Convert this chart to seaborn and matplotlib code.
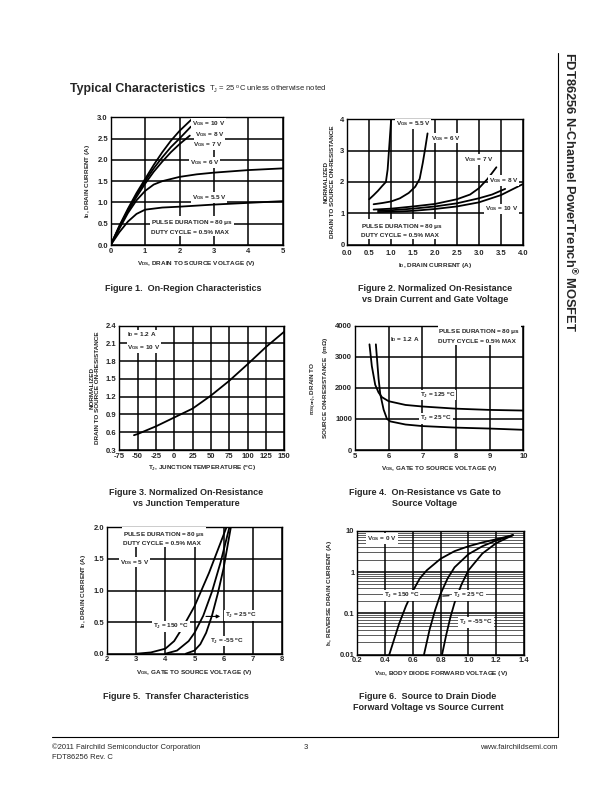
import numpy as np
import matplotlib
matplotlib.use("Agg")
import matplotlib.pyplot as plt
import seaborn as sns

# --- Data ---
# Figure 1: on-region characteristics (VDS in V, ID in A)
f1_v10 = [0, 0.25, 0.5, 0.75, 1.0, 1.25, 1.5, 1.75, 2.0, 2.35]
f1_i10 = [0, 0.45, 0.85, 1.22, 1.55, 1.88, 2.18, 2.45, 2.68, 2.95]
f1_v8 = [0, 0.25, 0.5, 0.75, 1.0, 1.25, 1.5, 1.75, 2.0, 2.33]
f1_i8 = [0, 0.43, 0.82, 1.18, 1.5, 1.8, 2.06, 2.3, 2.5, 2.78]
f1_v7 = [0, 0.25, 0.5, 0.75, 1.0, 1.25, 1.5, 1.75, 2.0, 2.3]
f1_i7 = [0, 0.41, 0.79, 1.13, 1.44, 1.72, 1.96, 2.18, 2.37, 2.57]
f1_v6 = [0, 0.25, 0.5, 0.75, 1.0, 1.25, 1.5, 2.0, 2.5, 3.0, 4.0, 5.0]
f1_i6 = [0, 0.38, 0.75, 1.05, 1.27, 1.42, 1.5, 1.6, 1.66, 1.7, 1.76, 1.8]
f1_v55 = [0, 0.25, 0.5, 0.75, 1.0, 1.5, 2.0, 3.0, 4.0, 5.0]
f1_i55 = [0, 0.3, 0.55, 0.73, 0.83, 0.88, 0.9, 0.95, 0.99, 1.03]

# Figure 2: normalized RDS(on) vs ID
f2_i55 = [0.5, 0.6, 0.7, 0.8, 0.88, 0.92, 0.96, 1.0]
f2_r55 = [1.45, 1.58, 1.72, 1.88, 2.0, 2.4, 3.2, 4.0]
f2_i6 = [0.6, 0.8, 1.0, 1.2, 1.4, 1.55, 1.65, 1.72, 1.78, 1.83]
f2_r6 = [1.29, 1.33, 1.38, 1.48, 1.65, 1.85, 2.1, 2.6, 3.1, 3.55]
f2_i7 = [0.6, 1.0, 1.5, 2.0, 2.5, 2.8, 3.0, 3.2, 3.4]
f2_r7 = [1.12, 1.15, 1.22, 1.3, 1.45, 1.6, 1.8, 2.1, 2.47]
f2_i8 = [0.7, 1.0, 1.5, 2.0, 2.5, 3.0, 3.3, 3.6]
f2_r8 = [1.08, 1.1, 1.15, 1.22, 1.32, 1.48, 1.6, 1.78]
f2_i10 = [0.7, 1.0, 1.5, 2.0, 2.5, 3.0, 3.5, 4.0]
f2_r10 = [1.04, 1.05, 1.08, 1.14, 1.22, 1.35, 1.58, 1.93]

# Figure 3: normalized RDS(on) vs junction temperature
f3_t = [-55, -50, -25, 0, 25, 50, 75, 100, 125, 150]
f3_r = [0.55, 0.57, 0.70, 0.85, 1.0, 1.22, 1.47, 1.75, 2.04, 2.3]

# Figure 4: RDS(on) (mOhm) vs VGS
f4_v125 = [5.43, 5.5, 5.6, 5.7, 5.8, 6.0, 6.5, 7.0, 8.0, 9.0, 10.0]
f4_r125 = [3400, 2700, 2100, 1850, 1700, 1570, 1450, 1400, 1330, 1290, 1270]
f4_v25 = [5.62, 5.7, 5.75, 5.85, 5.95, 6.05, 6.5, 7.0, 8.0, 9.0, 10.0]
f4_r25 = [3400, 2300, 1800, 1300, 1000, 920, 820, 770, 720, 690, 650]

# Figure 5: transfer characteristics
f5_v150 = [3.0, 3.5, 4.0, 4.3, 4.6, 5.0, 5.5, 6.1]
f5_i150 = [0, 0.02, 0.08, 0.2, 0.42, 0.75, 1.28, 2.0]
f5_v25 = [4.0, 4.4, 4.8, 5.0, 5.3, 5.6, 5.9, 6.2]
f5_i25 = [0, 0.05, 0.2, 0.33, 0.6, 0.98, 1.45, 2.0]
f5_vm55 = [4.7, 5.0, 5.2, 5.4, 5.6, 5.8, 6.0, 6.25]
f5_im55 = [0, 0.05, 0.15, 0.33, 0.6, 0.95, 1.35, 2.0]

# Figure 6: body diode forward voltage vs source current
f6_v150 = [0.43, 0.5, 0.55, 0.6, 0.65, 0.7, 0.8, 0.9, 1.0, 1.1, 1.2, 1.32]
f6_i150 = [0.01, 0.055, 0.15, 0.35, 0.7, 1.1, 2.1, 3.2, 4.2, 5.2, 6.2, 7.8]
f6_v25 = [0.68, 0.72, 0.76, 0.8, 0.85, 0.9, 1.0, 1.1, 1.2, 1.32]
f6_i25 = [0.01, 0.04, 0.12, 0.3, 0.7, 1.3, 2.7, 4.2, 5.8, 7.8]
f6_vm55 = [0.81, 0.84, 0.87, 0.9, 0.95, 1.0, 1.1, 1.2, 1.32]
f6_im55 = [0.01, 0.03, 0.08, 0.18, 0.5, 1.1, 2.8, 5.0, 7.8]

# --- Style ---
sns.set_style("white")
plt.rcParams['font.family'] = ['Liberation Sans', 'DejaVu Sans']
plt.rcParams['mathtext.default'] = 'regular'

W, H = 612, 792
fig = plt.figure(figsize=(W / 100, H / 100), dpi=100)

TICK_FS = 5.5
LAB_FS = 4.6
TXT_FS = 4.6
BOX = dict(fc='white', ec='none', pad=0.6)


def add_ax(x0, y0, x1, y1):
    return fig.add_axes([x0 / W, 1 - y1 / H, (x1 - x0) / W, (y1 - y0) / H])


def style(ax):
    for s in ax.spines.values():
        s.set_linewidth(1.0)
        s.set_color('black')
    ax.tick_params(labelsize=TICK_FS, length=0, pad=2)
    for lab in ax.get_xticklabels() + ax.get_yticklabels():
        lab.set_fontweight('bold')
    ax.grid(True, color='black', lw=1.1)
    ax.set_axisbelow(True)


def curve(ax, x, y):
    sns.lineplot(x=x, y=y, ax=ax, color='black', lw=1.3, estimator=None, sort=False)


def txt(ax, x, y, s, **kw):
    ax.text(x, y, s, fontsize=TXT_FS, fontweight='bold', bbox=BOX, zorder=5, **kw)


# ---- Figure 1 ----
ax1 = add_ax(110.7, 117.3, 282.7, 245)
for x, y in [(f1_v10, f1_i10), (f1_v8, f1_i8), (f1_v7, f1_i7), (f1_v6, f1_i6), (f1_v55, f1_i55)]:
    curve(ax1, x, y)
ax1.set_xlim(0, 5)
ax1.set_ylim(0, 3)
ax1.set_xticks(range(0, 6))
ax1.set_yticks(np.arange(0, 3.01, 0.5))
ax1.set_yticklabels([f"{v:.1f}" for v in np.arange(0, 3.01, 0.5)])
style(ax1)
txt(ax1, 2.35, 2.86, r"V$_{GS}$ = 10 V", va='center')
txt(ax1, 2.45, 2.6, r"V$_{GS}$ = 8 V", va='center')
txt(ax1, 2.4, 2.35, r"V$_{GS}$ = 7 V", va='center')
txt(ax1, 2.3, 1.94, r"V$_{GS}$ = 6 V", va='center')
txt(ax1, 2.35, 1.12, r"V$_{GS}$ = 5.5 V", va='center')
txt(ax1, 1.17, 0.43, "PULSE DURATION = 80 $\\mu$s\nDUTY CYCLE = 0.5% MAX", va='center', linespacing=1.6)
ax1.set_xlabel(r"V$_{DS}$, DRAIN TO SOURCE VOLTAGE (V)", fontsize=LAB_FS, fontweight='bold', labelpad=3)
ax1.set_ylabel(r"I$_D$, DRAIN CURRENT (A)", fontsize=LAB_FS, fontweight='bold', labelpad=4)

# ---- Figure 2 ----
ax2 = add_ax(347.3, 119.3, 522.7, 244.7)
for x, y in [(f2_i55, f2_r55), (f2_i6, f2_r6), (f2_i7, f2_r7), (f2_i8, f2_r8), (f2_i10, f2_r10)]:
    curve(ax2, x, y)
ax2.set_xlim(0, 4)
ax2.set_ylim(0, 4)
ax2.set_xticks(np.arange(0, 4.01, 0.5))
ax2.set_xticklabels([f"{v:.1f}" for v in np.arange(0, 4.01, 0.5)])
ax2.set_yticks(range(0, 5))
style(ax2)
ax2.tick_params(axis='x', pad=4)
txt(ax2, 1.1, 3.85, r"V$_{GS}$ = 5.5 V", va='center')
txt(ax2, 1.9, 3.4, r"V$_{GS}$ = 6 V", va='center')
txt(ax2, 2.65, 2.72, r"V$_{GS}$ = 7 V", va='center')
txt(ax2, 3.23, 2.05, r"V$_{GS}$ = 8 V", va='center')
txt(ax2, 3.13, 1.14, r"V$_{GS}$ = 10 V", va='center')
txt(ax2, 0.32, 0.46, "PULSE DURATION = 80 $\\mu$s\nDUTY CYCLE = 0.5% MAX", va='center', linespacing=1.6)
ax2.set_xlabel(r"I$_D$, DRAIN CURRENT (A)", fontsize=LAB_FS, fontweight='bold', labelpad=3)
ax2.set_ylabel("NORMALIZED\nDRAIN TO SOURCE ON-RESISTANCE", fontsize=LAB_FS, fontweight='bold', labelpad=4)

# ---- Figure 3 ----
ax3 = add_ax(119.3, 325.7, 284.3, 450)
curve(ax3, f3_t, f3_r)
ax3.set_xlim(-75, 150)
ax3.set_ylim(0.3, 2.4)
ax3.set_xticks(range(-75, 151, 25))
ax3.set_xticklabels([str(t) for t in range(-75, 151, 25)])
ax3.set_yticks(np.arange(0.3, 2.41, 0.3))
ax3.set_yticklabels([f"{v:.1f}" for v in np.arange(0.3, 2.41, 0.3)])
style(ax3)
txt(ax3, -64, 2.14, "I$_D$ = 1.2 A\nV$_{GS}$ = 10 V", va='center', linespacing=1.6)
ax3.set_xlabel(r"T$_J$, JUNCTION TEMPERATURE ($^o$C)", fontsize=LAB_FS, fontweight='bold', labelpad=3)
ax3.set_ylabel("NORMALIZED\nDRAIN TO SOURCE ON-RESISTANCE", fontsize=LAB_FS, fontweight='bold', labelpad=4)

# ---- Figure 4 ----
ax4 = add_ax(355, 325.7, 523.3, 450)
curve(ax4, f4_v125, f4_r125)
curve(ax4, f4_v25, f4_r25)
ax4.set_xlim(5, 10)
ax4.set_ylim(0, 4000)
ax4.set_xticks(range(5, 11))
ax4.set_yticks(range(0, 4001, 1000))
style(ax4)
txt(ax4, 6.05, 3540, "I$_D$ = 1.2 A", va='center')
txt(ax4, 7.48, 3680, "PULSE DURATION = 80 $\\mu$s\nDUTY CYCLE = 0.5% MAX", va='center', linespacing=1.6)
txt(ax4, 6.93, 1770, "T$_J$ = 125 $^o$C", va='center')
txt(ax4, 6.93, 1020, "T$_J$ = 25 $^o$C", va='center')
ax4.set_xlabel(r"V$_{GS}$, GATE TO SOURCE VOLTAGE (V)", fontsize=LAB_FS, fontweight='bold', labelpad=3)
ax4.set_ylabel("r$_{DS(on)}$, DRAIN TO\nSOURCE ON-RESISTANCE  (m$\\Omega$)", fontsize=LAB_FS, fontweight='bold', labelpad=4)

# ---- Figure 5 ----
ax5 = add_ax(107.3, 527.3, 281.7, 653.7)
curve(ax5, f5_v150, f5_i150)
curve(ax5, f5_v25, f5_i25)
curve(ax5, f5_vm55, f5_im55)
ax5.set_xlim(2, 8)
ax5.set_ylim(0, 2)
ax5.set_xticks(range(2, 9))
ax5.set_yticks(np.arange(0, 2.01, 0.5))
ax5.set_yticklabels([f"{v:.1f}" for v in np.arange(0, 2.01, 0.5)])
style(ax5)
txt(ax5, 2.55, 1.83, "PULSE DURATION = 80 $\\mu$s\nDUTY CYCLE = 0.5% MAX", va='center', linespacing=1.6)
txt(ax5, 2.42, 1.45, "V$_{DS}$ = 5 V", va='center')
txt(ax5, 3.58, 0.43, "T$_J$ = 150 $^o$C", va='center')
txt(ax5, 6.05, 0.6, "T$_J$ = 25 $^o$C", va='center')
txt(ax5, 5.55, 0.2, "T$_J$ = -55 $^o$C", va='center')
ax5.annotate('', xy=(5.98, 0.59), xytext=(5.3, 0.59),
             arrowprops=dict(arrowstyle='-|>', color='black', lw=0.8, mutation_scale=5), zorder=6)
ax5.set_xlabel(r"V$_{GS}$, GATE TO SOURCE VOLTAGE (V)", fontsize=LAB_FS, fontweight='bold', labelpad=3)
ax5.set_ylabel(r"I$_D$, DRAIN CURRENT (A)", fontsize=LAB_FS, fontweight='bold', labelpad=4)

# ---- Figure 6 ----
ax6 = add_ax(357.3, 530.7, 524, 654.7)
curve(ax6, f6_v150, f6_i150)
curve(ax6, f6_v25, f6_i25)
curve(ax6, f6_vm55, f6_im55)
ax6.set_yscale('log')
ax6.set_xlim(0.2, 1.4)
ax6.set_ylim(0.01, 10)
ax6.set_xticks(np.arange(0.2, 1.41, 0.2))
ax6.set_xticklabels([f"{v:.1f}" for v in np.arange(0.2, 1.41, 0.2)])
ax6.set_yticks([0.01, 0.1, 1, 10])
ax6.set_yticklabels(["0.01", "0.1", "1", "10"])
style(ax6)
ax6.tick_params(which='minor', length=0)
ax6.grid(True, which='minor', axis='y', color='black', lw=0.45)
txt(ax6, 0.27, 6.4, "V$_{GS}$ = 0 V", va='center')
txt(ax6, 0.39, 0.27, "T$_J$ = 150 $^o$C", va='center')
txt(ax6, 0.89, 0.27, "T$_J$ = 25 $^o$C", va='center')
txt(ax6, 0.93, 0.06, "T$_J$ = -55 $^o$C", va='center')
ax6.annotate('', xy=(0.795, 0.26), xytext=(0.88, 0.27),
             arrowprops=dict(arrowstyle='-', color='black', lw=0.8), zorder=6)
ax6.set_xlabel(r"V$_{SD}$, BODY DIODE FORWARD VOLTAGE (V)", fontsize=LAB_FS, fontweight='bold', labelpad=3)
ax6.set_ylabel(r"I$_S$, REVERSE DRAIN CURRENT (A)", fontsize=LAB_FS, fontweight='bold', labelpad=4)

# ---- Page text ----
def ptxt(x, y, s, **kw):
    fig.text(x / W, 1 - y / H, s, **kw)


ptxt(70, 92, "Typical Characteristics", fontsize=8.9, fontweight='bold', va='baseline')
ptxt(209, 92, "T$_J$ = 25 $^o$C unless otherwise noted", fontsize=5.5, va='baseline')
ptxt(570, 52, "FDT86256 N-Channel PowerTrench$^{®}$ MOSFET", fontsize=9.3, fontweight='bold',
     rotation=-90, ha='center', va='top')

cap = dict(fontsize=6.5, fontweight='bold', va='top', ha='center', linespacing=1.25)
ptxt(183, 284, "Figure 1.  On-Region Characteristics", **cap)
ptxt(435, 284, "Figure 2. Normalized On-Resistance\nvs Drain Current and Gate Voltage", **cap)
ptxt(186, 488, "Figure 3. Normalized On-Resistance\nvs Junction Temperature", **cap)
ptxt(425, 488, "Figure 4.  On-Resistance vs Gate to\nSource Voltage", **cap)
ptxt(176, 692, "Figure 5.  Transfer Characteristics", **cap)
ptxt(428, 692, "Figure 6.  Source to Drain Diode\nForward Voltage vs Source Current", **cap)

ptxt(52, 749, "©2011 Fairchild Semiconductor Corporation", fontsize=5.5, va='baseline')
ptxt(52, 759, "FDT86256 Rev. C", fontsize=5.5, va='baseline')
ptxt(306, 749, "3", fontsize=5.5, va='baseline', ha='center')
ptxt(558, 749, "www.fairchildsemi.com", fontsize=5.5, va='baseline', ha='right')

# page frame (right and bottom)
fig.add_artist(plt.Line2D([558 / W, 558 / W], [1 - 53 / H, 1 - 737 / H], color='black', lw=0.8))
fig.add_artist(plt.Line2D([52 / W, 558 / W], [1 - 737 / H, 1 - 737 / H], color='black', lw=0.8))

fig.savefig("out.png", dpi=100)
